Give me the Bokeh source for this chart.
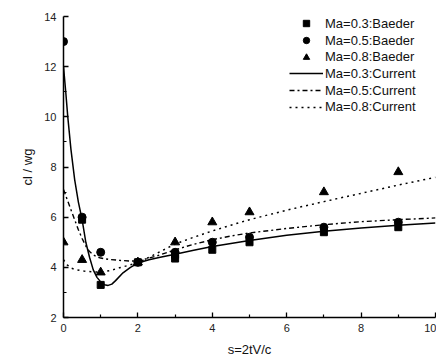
from bokeh.plotting import figure
from bokeh.models import FixedTicker, Legend, LegendItem, Range1d
from bokeh.embed import file_html
from bokeh.resources import INLINE

FONT = "Liberation Sans"

# Baeder data (markers)
sq_x = [0.5, 1, 2, 3, 3, 4, 5, 7, 9]
sq_y = [5.9, 3.3, 4.2, 4.35, 4.5, 4.7, 5.0, 5.4, 5.6]
ci_x = [0, 0.5, 1, 2, 3, 4, 5, 7, 9]
ci_y = [13.0, 6.0, 4.6, 4.2, 4.6, 5.0, 5.2, 5.6, 5.8]
tr_x = [0, 0.5, 1, 2, 3, 4, 5, 7, 9]
tr_y = [5.0, 4.3, 3.8, 4.2, 5.0, 5.8, 6.2, 7.0, 7.8]

# Current results (curves)
c3_x = [0, 0.06, 0.115, 0.2, 0.3, 0.4, 0.5, 0.6, 0.7, 0.8, 0.9, 1.0, 1.1, 1.2, 1.3, 1.4, 1.6, 1.8, 2.0, 2.3, 2.6, 3, 3.5, 4, 4.5, 5, 6, 7, 8, 9, 10]
c3_y = [12.0, 11.0, 10.0, 8.7, 7.5, 6.6, 5.9, 5.0, 4.4, 3.9, 3.6, 3.42, 3.31, 3.28, 3.33, 3.47, 3.78, 4.0, 4.17, 4.3, 4.4, 4.52, 4.68, 4.83, 4.95, 5.07, 5.28, 5.44, 5.57, 5.68, 5.77]
c5_x = [0, 0.1, 0.2, 0.3, 0.4, 0.5, 0.6, 0.7, 0.8, 0.9, 1.0, 1.2, 1.5, 1.8, 2.0, 2.5, 3, 3.5, 4, 4.5, 5, 6, 7, 8, 9, 10]
c5_y = [7.1, 6.7, 6.3, 5.9, 5.5, 5.15, 4.85, 4.63, 4.5, 4.42, 4.37, 4.32, 4.28, 4.25, 4.25, 4.45, 4.7, 4.92, 5.1, 5.25, 5.37, 5.55, 5.7, 5.82, 5.9, 5.97]
c8_x = [0, 0.1, 0.2, 0.35, 0.55, 0.8, 1.0, 1.25, 1.5, 1.75, 2.0, 2.5, 3, 3.5, 4, 4.5, 5, 6, 7, 8, 9, 10]
c8_y = [4.3, 4.1, 3.97, 3.9, 3.85, 3.82, 3.81, 3.87, 3.98, 4.08, 4.18, 4.55, 4.93, 5.2, 5.45, 5.68, 5.9, 6.28, 6.62, 6.95, 7.28, 7.59]

labels = ["Ma=0.3:Baeder", "Ma=0.5:Baeder", "Ma=0.8:Baeder",
          "Ma=0.3:Current", "Ma=0.5:Current", "Ma=0.8:Current"]
x_ticks = [0, 2, 4, 6, 8, 10]
x_minor = [1, 3, 5, 7, 9]
y_ticks = [2, 4, 6, 8, 10, 12, 14]
y_minor = [3, 5, 7, 9, 11, 13]

p = figure(width=436, height=359, output_backend="svg", toolbar_location=None,
           x_range=Range1d(0, 10), y_range=Range1d(2, 14),
           min_border_left=63, min_border_right=1, min_border_top=16, min_border_bottom=41)
p.outline_line_color = None
p.grid.visible = False
p.background_fill_color = "white"
p.border_fill_color = "white"

r_c3 = p.line(c3_x, c3_y, line_color="black", line_width=1.5)
r_c5 = p.line(c5_x, c5_y, line_color="black", line_width=1.4, line_dash="5 3 2 3")
r_c8 = p.line(c8_x, c8_y, line_color="black", line_width=1.5, line_dash="2 4")
r_sq = p.scatter(sq_x, sq_y, marker="square", size=7, color="black")
r_ci = p.scatter(ci_x, ci_y, marker="circle", size=8, color="black")
r_tr = p.scatter(tr_x, tr_y, marker="triangle", size=9, color="black")

for ax, ticks, minor in ((p.xaxis[0], x_ticks, x_minor), (p.yaxis[0], y_ticks, y_minor)):
    ax.ticker = FixedTicker(ticks=ticks, minor_ticks=minor)
    ax.axis_line_width = 1.5
    ax.axis_line_color = "black"
    ax.major_tick_in = 5
    ax.major_tick_out = 0
    ax.minor_tick_in = 3
    ax.minor_tick_out = 0
    ax.major_tick_line_width = 1.3
    ax.minor_tick_line_width = 1.2
    ax.major_tick_line_color = "black"
    ax.minor_tick_line_color = "black"
    ax.major_label_text_font = FONT
    ax.major_label_text_font_size = "11px"
    ax.major_label_text_color = "#222222"
    ax.axis_label_text_font = FONT
    ax.axis_label_text_font_size = "13px"
    ax.axis_label_text_font_style = "normal"
    ax.axis_label_text_color = "#111111"

p.xaxis.axis_label = "s=2tV/c"
p.yaxis.axis_label = "cl / wg"
p.xaxis.major_label_standoff = 6
p.xaxis.axis_label_standoff = 7
p.yaxis.major_label_standoff = 7
p.yaxis.axis_label_standoff = 6

# one single-row legend per entry so the row pitch can follow the reference
renderers = [r_sq, r_ci, r_tr, r_c3, r_c5, r_c8]
row_y = [285.7, 269.0, 252.3, 235.7, 219.0, 202.3]
for lab, rend, yy in zip(labels, renderers, row_y):
    lg = Legend(items=[LegendItem(label=lab, renderers=[rend])], location=(226, yy))
    lg.border_line_color = None
    lg.background_fill_alpha = 0
    lg.padding = 0
    lg.margin = 0
    lg.spacing = 0
    lg.label_height = 16
    lg.glyph_height = 16
    lg.glyph_width = 34
    lg.label_standoff = 2
    lg.label_text_font = FONT
    lg.label_text_font_size = "13px"
    lg.label_text_color = "#111111"
    p.add_layout(lg, "center")

open("out.html", "w").write(file_html(p, INLINE))
